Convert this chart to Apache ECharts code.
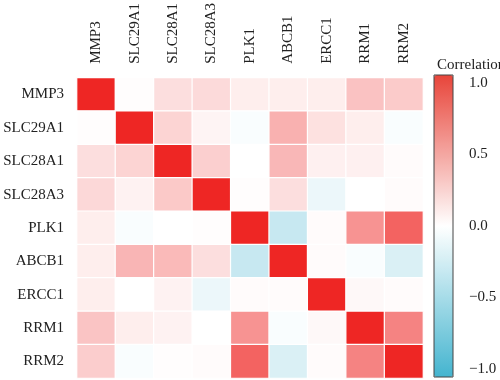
<!DOCTYPE html>
<html>
<head>
<meta charset="utf-8">
<script src="https://cdn.jsdelivr.net/npm/echarts@6/dist/echarts.min.js"></script>
<style>html,body{margin:0;padding:0;background:#fff;}#c{width:500px;height:380px;}</style>
</head>
<body>
<div id="c"></div>
<script>
var genes = ['MMP3','SLC29A1','SLC28A1','SLC28A3','PLK1','ABCB1','ERCC1','RRM1','RRM2'];
var MMP3    = [1.00, 0.01, 0.15, 0.17, 0.08, 0.08, 0.08, 0.28, 0.24];
var SLC29A1 = [0.01, 1.00, 0.20, 0.05, -0.03, 0.36, 0.14, 0.08, -0.03];
var SLC28A1 = [0.15, 0.20, 1.00, 0.22, 0.00, 0.33, 0.07, 0.07, 0.02];
var SLC28A3 = [0.18, 0.06, 0.25, 1.00, 0.01, 0.15, -0.10, 0.00, 0.02];
var PLK1    = [0.08, -0.03, 0.00, 0.01, 1.00, -0.30, 0.02, 0.50, 0.72];
var ABCB1   = [0.08, 0.34, 0.32, 0.15, -0.30, 1.00, 0.02, -0.03, -0.20];
var ERCC1   = [0.08, 0.00, 0.06, -0.10, 0.02, 0.02, 1.00, 0.03, 0.02];
var RRM1    = [0.27, 0.08, 0.06, 0.00, 0.50, -0.03, 0.03, 1.00, 0.57];
var RRM2    = [0.23, -0.03, 0.01, 0.02, 0.72, -0.20, 0.02, 0.57, 1.00];
var rows = [MMP3, SLC29A1, SLC28A1, SLC28A3, PLK1, ABCB1, ERCC1, RRM1, RRM2];
var colorTicks = [-1, -0.5, 0, 0.5, 1];

var data = [];
rows.forEach(function (r, yi) {
  r.forEach(function (v, xi) { data.push([xi, yi, v]); });
});

var font = '"Liberation Serif", "DejaVu Serif", serif';
var chart = echarts.init(document.getElementById('c'));
chart.setOption({
  animation: false,
  title: {
    text: 'Correlation', left: 432, top: 53,
    textStyle: { fontFamily: font, fontSize: 15, fontWeight: 'normal', color: '#222' }
  },
  grid: [
    { left: 77, top: 77, width: 346, height: 301 },
    { left: 434, top: 75, width: 19, height: 302 }
  ],
  xAxis: [
    { type: 'category', data: genes, position: 'top', gridIndex: 0,
      axisLine: { show: false }, axisTick: { show: false }, splitLine: { show: false },
      axisLabel: { rotate: -90, margin: 14, fontFamily: font, fontSize: 15, color: '#222' } },
    { type: 'value', gridIndex: 1, show: false, min: 0, max: 1 }
  ],
  yAxis: [
    { type: 'category', data: genes, inverse: true, gridIndex: 0,
      axisLine: { show: false }, axisTick: { show: false }, splitLine: { show: false },
      axisLabel: { margin: 13, fontFamily: font, fontSize: 15, color: '#222' } },
    { type: 'value', gridIndex: 1, position: 'right', min: -1.056, max: 1.056,
      axisLine: { show: false }, splitLine: { show: false },
      axisTick: { show: true, length: 6, customValues: colorTicks, lineStyle: { color: '#333' } },
      axisLabel: { margin: 16, fontFamily: font, fontSize: 15, color: '#222', customValues: colorTicks,
        formatter: function (v) { return (v < 0 ? '\u2212' : '') + Math.abs(v).toFixed(1); } } }
  ],
  visualMap: [
    { type: 'continuous', seriesIndex: 0, min: -1, max: 1, show: false, dimension: 2,
      inRange: { color: ['#45B3CF', '#FFFFFF', '#EE2624'] } },
    { type: 'continuous', seriesIndex: 1, min: -1.056, max: 1.056, show: true, dimension: 1,
      left: 434, top: 75, padding: 0, itemWidth: 19, itemHeight: 302, calculable: false,
      orient: 'vertical', text: null, showLabel: false,
      inRange: { color: ['#44B4CF', '#FFFFFF', '#E8453A'] } }
  ],
  series: [
    { type: 'heatmap', xAxisIndex: 0, yAxisIndex: 0, data: data,
      itemStyle: { borderColor: '#fff', borderWidth: 1.2 }, emphasis: { disabled: true } },
    { type: 'scatter', xAxisIndex: 1, yAxisIndex: 1, data: [], silent: true }
  ],
  graphic: [
    { type: 'rect', z: 100, silent: true,
      shape: { x: 434, y: 75, width: 19, height: 302 },
      style: { fill: 'none', stroke: '#444', lineWidth: 1 } }
  ]
});
</script>
</body>
</html>
